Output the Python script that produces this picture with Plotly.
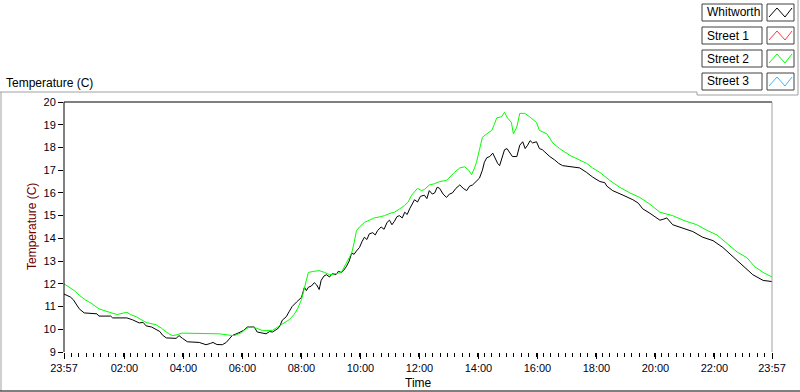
import plotly.graph_objects as go
from datetime import datetime, timedelta

# ---------------- data ----------------
series_names = ["Whitworth", "Street 1", "Street 2", "Street 3"]
series_colors = ["#000000", "#ff3c3c", "#00ff00", "#3cb4ff"]

whitworth_times = ["23:57","00:03","00:10","00:16","00:22","00:28","00:38","00:55","01:04","01:08",
    "01:32","01:36","02:05","02:16","02:30","02:38","02:44","02:55","03:04","03:12",
    "03:17","03:25","03:45","03:51","03:58","04:08","04:32","04:46","04:55","05:00",
    "05:08","05:19","05:27","05:33","05:39","05:53","06:02","06:10","06:24","06:30",
    "06:40","06:48","06:55","07:01","07:10","07:15","07:21","07:29","07:35","07:41",
    "07:50","07:56","08:00","08:06","08:10","08:14","08:20","08:26","08:31","08:36",
    "08:40","08:46","08:51","08:57","09:03","09:10","09:15","09:21","09:26","09:31",
    "09:37","09:42","09:47","09:52","09:58","10:03","10:08","10:13","10:18","10:25",
    "10:30","10:35","10:42","10:48","10:54","10:59","11:04","11:09","11:14","11:19",
    "11:25","11:30","11:35","11:40","11:45","11:50","11:56","12:02","12:10","12:15",
    "12:20","12:26","12:31","12:36","12:41","12:48","12:55","13:01","13:07","13:14",
    "13:22","13:29","13:36","13:42","13:48","13:55","14:02","14:08","14:12","14:17",
    "14:23","14:29","14:35","14:39","14:43","14:48","14:53","14:58","15:03","15:09",
    "15:18","15:24","15:30","15:35","15:40","15:45","15:50","15:58","16:04","16:10",
    "16:15","16:25","16:35","16:43","16:51","17:06","17:26","17:40","17:52","18:07",
    "18:17","18:21","18:33","18:54","19:14","19:25","19:34","19:49","20:09","20:17",
    "20:23","20:35","20:56","21:16","21:36","21:57","22:17","22:38","22:58","23:18",
    "23:39","23:50","23:57"]
whitworth_temps = [11.55,11.5,11.42,11.3,11.1,10.9,10.72,10.7,10.68,10.58,
    10.58,10.5,10.5,10.42,10.28,10.3,10.15,10.1,10.0,9.9,
    9.75,9.62,9.6,9.72,9.6,9.45,9.42,9.32,9.38,9.42,
    9.33,9.32,9.42,9.55,9.72,9.85,9.95,10.1,10.1,9.88,
    9.85,9.8,9.9,9.88,10.0,10.1,10.4,10.55,10.78,11.0,
    11.2,11.3,11.4,11.85,11.7,11.85,11.9,12.05,11.95,11.75,
    12.15,12.35,12.4,12.3,12.45,12.4,12.55,12.5,12.6,12.75,
    13.0,13.35,13.3,13.45,13.6,13.85,14.05,13.95,14.2,14.25,
    14.15,14.35,14.5,14.4,14.7,14.8,14.6,14.75,14.95,15.0,
    14.9,15.15,15.05,15.3,15.5,15.7,15.6,15.85,15.9,15.75,
    16.1,15.95,16.0,16.25,16.2,15.95,15.8,15.95,16.0,16.2,
    16.35,16.2,16.1,16.3,16.35,16.5,16.65,17.0,17.35,17.55,
    17.6,17.75,17.45,17.3,17.2,17.6,17.9,17.95,17.8,17.6,
    17.6,18.1,18.25,17.95,18.1,18.3,18.2,18.25,17.95,17.9,
    17.8,17.6,17.45,17.3,17.2,17.15,17.1,16.9,16.7,16.5,
    16.45,16.3,16.1,15.9,15.7,15.55,15.3,15.1,14.8,14.85,
    14.9,14.6,14.45,14.3,14.05,13.9,13.6,13.2,12.8,12.4,
    12.15,12.1,12.1]

street2_times = ["23:57","00:07","00:18","00:28","00:40","00:52","01:08","01:29","01:45","01:55",
    "02:05","02:12","02:24","02:44","02:55","03:04","03:15","03:25","03:37","03:45",
    "03:57","04:18","04:46","05:13","05:30","05:43","05:58","06:06","06:14","06:28",
    "06:40","07:01","07:15","07:25","07:35","07:45","07:52","08:00","08:06","08:14",
    "08:25","08:36","08:47","08:57","09:10","09:21","09:31","09:42","09:47","09:52",
    "09:58","10:08","10:18","10:28","10:40","10:49","11:00","11:09","11:20","11:30",
    "11:37","11:44","11:56","12:04","12:10","12:20","12:30","12:41","12:55","13:03",
    "13:11","13:22","13:32","13:40","13:46","13:52","13:56","14:02","14:08","14:17",
    "14:27","14:32","14:37","14:47","14:53","14:59","15:07","15:11","15:18","15:24",
    "15:34","15:44","15:58","16:04","16:19","16:31","16:45","17:06","17:26","17:40",
    "17:52","18:07","18:27","18:47","19:08","19:28","19:49","20:09","20:35","20:56",
    "21:24","21:45","22:05","22:25","22:46","23:06","23:22","23:39","23:57"]
street2_temps = [12.0,11.85,11.7,11.5,11.3,11.15,10.9,10.75,10.65,10.7,
    10.75,10.65,10.55,10.3,10.25,10.2,10.05,9.88,9.72,9.75,
    9.83,9.83,9.83,9.8,9.75,9.72,9.85,10.0,10.1,10.05,
    9.95,9.95,10.15,10.3,10.42,10.65,10.9,11.3,11.8,12.5,
    12.55,12.58,12.5,12.4,12.45,12.5,12.9,13.35,13.8,14.35,
    14.5,14.7,14.8,14.9,14.95,15.0,15.1,15.15,15.3,15.45,
    15.6,15.9,16.2,16.1,16.15,16.35,16.4,16.5,16.55,16.75,
    16.9,17.1,17.15,17.0,16.8,17.1,17.35,17.9,18.45,18.6,
    18.75,19.0,19.3,19.35,19.55,19.3,19.1,18.6,18.9,19.5,
    19.5,19.35,19.1,18.75,18.6,18.2,17.95,17.65,17.45,17.3,
    17.1,16.9,16.55,16.25,16.0,15.8,15.5,15.15,15.0,14.8,
    14.6,14.35,14.15,13.8,13.4,13.15,12.75,12.5,12.3]

x_tick_labels = ["23:57","02:00","04:00","06:00","08:00","10:00","12:00",
                 "14:00","16:00","18:00","20:00","22:00","23:57"]
y_tick_values = [9, 10, 11, 12, 13, 14, 15, 16, 17, 18, 19, 20]


def to_datetimes(times):
    base = datetime(2000, 1, 1)
    out, day, prev = [], 0, None
    for t in times:
        h, m = map(int, t.split(":"))
        mins = h * 60 + m
        if prev is not None and mins < prev:
            day += 1
        prev = mins
        out.append(base + timedelta(days=day, minutes=mins))
    return out


wx = to_datetimes(whitworth_times)
sx = to_datetimes(street2_times)
tickvals = to_datetimes(x_tick_labels)

# ---------------- layout geometry (pixels) ----------------
W, H = 800, 392
L, R, T, B = 64, 772, 102, 352


def px(x):
    return (x - L) / (R - L)


def py(y):
    return (B - y) / (B - T)


FONT = "Liberation Sans, Arial, sans-serif"
GREY = "#a0a0a0"

fig = go.Figure()
fig.add_trace(go.Scatter(x=wx, y=whitworth_temps, mode="lines", name=series_names[0],
                         line=dict(color=series_colors[0], width=1), showlegend=False))
fig.add_trace(go.Scatter(x=sx, y=street2_temps, mode="lines", name=series_names[2],
                         line=dict(color=series_colors[2], width=1), showlegend=False))

shapes = []
ann = []


def line(x0, y0, x1, y1, color, width=1):
    shapes.append(dict(type="line", xref="paper", yref="paper",
                       x0=px(x0), y0=py(y0), x1=px(x1), y1=py(y1),
                       line=dict(color=color, width=width), layer="above"))


# plot frame
line(L, T, R, T, "#000000")
line(L, T, L, B, "#000000")
line(R, T, R, B, GREY)
# panel borders
line(0, 92, 697, 92, GREY)
line(697, 92, 697, 95, GREY)
line(697, 95, 798, 95, GREY)
line(798, 0, 798, 95, GREY)
line(1, 92, 1, 391, GREY)
line(0, 391, 800, 391, "#000000")

# custom legend
for i, (name, col) in enumerate(zip(series_names, series_colors)):
    y0 = 4 + 23 * i
    y1 = y0 + 17
    for (a, b) in [(702, 762), (767, 794)]:
        shapes.append(dict(type="rect", xref="paper", yref="paper",
                           x0=px(a), x1=px(b), y0=py(y1), y1=py(y0),
                           line=dict(color="#404040", width=1), fillcolor="white"))
    pts = [(769, y1 - 4), (777, y0 + 4), (785, y1 - 4), (792, y0 + 4)]
    path = "M " + " L ".join(f"{px(a)},{py(b)}" for a, b in pts)
    shapes.append(dict(type="path", xref="paper", yref="paper", path=path,
                       line=dict(color=col, width=1)))
    ann.append(dict(x=px(705), y=py((y0 + y1) / 2), xref="paper", yref="paper",
                    text=name, showarrow=False, xanchor="left", yanchor="middle",
                    font=dict(family=FONT, size=12, color="#000000")))

# titles
ann.append(dict(x=px(4), y=py(83), xref="paper", yref="paper", text="Temperature (C)",
                showarrow=False, xanchor="left", yanchor="middle",
                font=dict(family=FONT, size=12, color="#000000")))
ann.append(dict(x=px(32), y=py(227), xref="paper", yref="paper", text="Temperature (C)",
                showarrow=False, xanchor="center", yanchor="middle", textangle=-90,
                font=dict(family=FONT, size=12, color="#6e0000")))
ann.append(dict(x=px(418), y=py(383), xref="paper", yref="paper", text="Time",
                showarrow=False, xanchor="center", yanchor="middle",
                font=dict(family=FONT, size=12, color="#000000")))

fig.update_layout(
    width=W, height=H,
    margin=dict(l=L, r=W - R, t=T, b=H - B, pad=0),
    paper_bgcolor="white", plot_bgcolor="white",
    showlegend=False,
    shapes=shapes, annotations=ann,
    font=dict(family=FONT, size=11, color="#000020"),
)
fig.update_xaxes(
    type="date", range=[tickvals[0], tickvals[-1]],
    tickmode="array", tickvals=tickvals, ticktext=x_tick_labels,
    ticks="outside", ticklen=6, tickcolor="#000000", tickwidth=1,
    showgrid=False, zeroline=False, showline=False,
    tickfont=dict(family=FONT, size=11, color="#000020"),
    minor=dict(ticks="outside", ticklen=4, tickcolor="#000000", tickwidth=1,
               tick0=tickvals[0], dtick=15 * 60 * 1000, showgrid=False),
)
fig.update_yaxes(
    range=[9, 20], tickmode="array", tickvals=y_tick_values,
    ticks="outside", ticklen=5, tickcolor="#000000",
    showgrid=False, zeroline=False, showline=False,
    tickfont=dict(family=FONT, size=11, color="#000020"),
)

fig.write_html(
    "out.html",
    config={"displayModeBar": False},
    post_script="document.body.style.margin='0';document.body.style.overflow='hidden';",
)
